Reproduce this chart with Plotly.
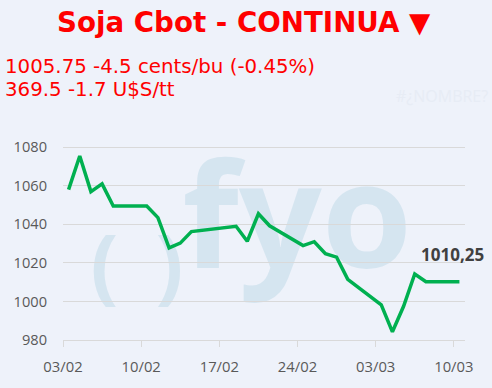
import plotly.graph_objects as go
import pandas as pd

dates = ["2025-02-03", "2025-02-04", "2025-02-05", "2025-02-06", "2025-02-07",
         "2025-02-10", "2025-02-11", "2025-02-12", "2025-02-13", "2025-02-14",
         "2025-02-18", "2025-02-19", "2025-02-20", "2025-02-21",
         "2025-02-24", "2025-02-25", "2025-02-26", "2025-02-27", "2025-02-28",
         "2025-03-03", "2025-03-04", "2025-03-05", "2025-03-06", "2025-03-07",
         "2025-03-10"]
values = [1058.0, 1075.5, 1057.0, 1061.0, 1049.5,
          1049.5, 1043.5, 1027.75, 1030.25, 1036.25,
          1039.0, 1031.25, 1045.5, 1039.25,
          1029.0, 1031.0, 1024.75, 1023.0, 1011.5,
          998.25, 984.25, 997.5, 1014.25, 1010.25,
          1010.25]
title_text = "Soja Cbot - CONTINUA ▼"
line1 = "1005.75 -4.5 cents/bu (-0.45%)"
line2 = "369.5 -1.7 U$S/tt"
last_label = "1010,25"

BG = "#EEF2FA"
W, H = 492, 388
L, R, T, B = 62.7, 27.2, 127.8, 45.7
pw, ph = W - L - R, H - T - B

def px(x):
    return (x - L) / pw

def py(y):
    return (H - B - y) / ph

# points centred in their day slot
xs = pd.to_datetime(dates) + pd.Timedelta(hours=12)

fig = go.Figure()

fig.add_trace(go.Scatter(
    x=xs, y=values, mode="lines",
    line=dict(color="#00B050", width=3.5),
    showlegend=False))

# decorative watermark, drawn beneath gridlines and the line
WM = "#D5E5F0"
for txt, cx, cy, sz in [("fyo", 297, 222, 146),
                        ("(", 104, 269, 82), (")", 169, 269, 82)]:
    fig.add_shape(type="rect", xref="paper", yref="paper",
                  x0=px(cx - 60), x1=px(cx + 60), y0=py(cy + 40), y1=py(cy - 40),
                  line=dict(width=0), fillcolor="rgba(0,0,0,0)", layer="below",
                  label=dict(text="<b>%s</b>" % txt, textposition="middle center",
                             font=dict(family="Open Sans", size=sz, color=WM)))

fig.add_annotation(x=xs[-1], y=values[-1], text="<b>%s</b>" % last_label,
                   showarrow=False, xshift=-7, yshift=27,
                   font=dict(family="Open Sans", size=17, color="#404040"))

fig.add_annotation(xref="paper", yref="paper", x=px(244), y=py(21),
                   text="<b>%s</b>" % title_text, showarrow=False,
                   xanchor="center", yanchor="middle",
                   font=dict(family="DejaVu Sans", size=27.7, color="#FF0000"))
fig.add_annotation(xref="paper", yref="paper", x=px(3), y=py(66),
                   text=line1, showarrow=False, xanchor="left", yanchor="middle",
                   font=dict(family="DejaVu Sans", size=19.8, color="#FF0000"))
fig.add_annotation(xref="paper", yref="paper", x=px(3), y=py(89),
                   text=line2, showarrow=False, xanchor="left", yanchor="middle",
                   font=dict(family="DejaVu Sans", size=19.8, color="#FF0000"))
fig.add_annotation(xref="paper", yref="paper", x=px(442), y=py(95),
                   text="#¿NOMBRE?", showarrow=False, xanchor="center", yanchor="middle",
                   font=dict(family="Open Sans", size=16, color="#E7ECF5"))

fig.update_layout(
    width=W, height=H,
    margin=dict(l=L, r=R, t=T, b=B, pad=0),
    paper_bgcolor=BG, plot_bgcolor=BG,
    xaxis=dict(type="date", range=["2025-02-03", "2025-03-11"],
               tick0="2025-02-03", dtick=7 * 24 * 3600 * 1000,
               tickformat="%d/%m", showgrid=False, zeroline=False,
               showline=True, linecolor="#D9D9D9", linewidth=1,
               ticks="outside", ticklen=6, tickcolor="#D9D9D9",
               ticklabelstandoff=7,
               tickfont=dict(family="Open Sans", size=14.8, color="#595959")),
    yaxis=dict(range=[980, 1090], tick0=980, dtick=20,
               showgrid=True, gridcolor="#D9D9D9", gridwidth=1,
               zeroline=False, showline=False, ticks="",
               ticklabelstandoff=15,
               tickfont=dict(family="Open Sans", size=14.6, color="#595959")),
)

fig.write_html("out.html", config={"displayModeBar": False},
               post_script="document.body.style.margin='0';")
